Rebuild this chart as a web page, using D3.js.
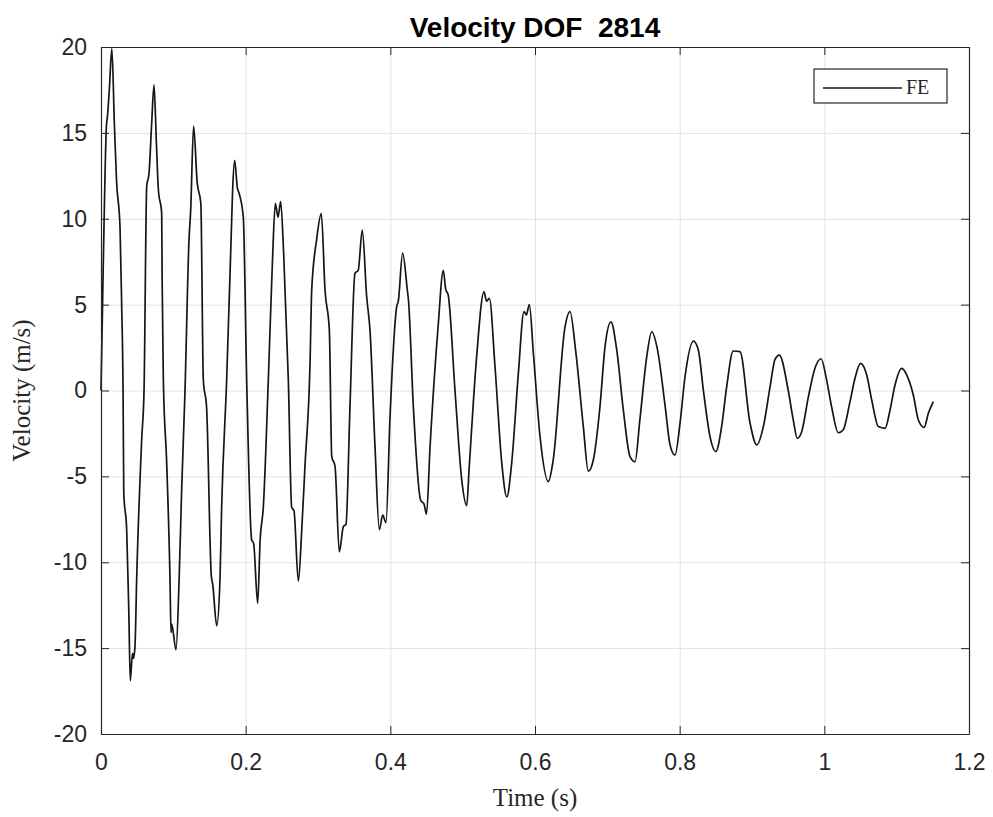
<!DOCTYPE html>
<html>
<head>
<meta charset="utf-8">
<script src="https://cdn.jsdelivr.net/npm/d3@7"></script>
<style>
body{margin:0;background:#fff;}
.tick-label{font-family:"Liberation Sans",Arial,sans-serif;font-size:23px;fill:#262626;}
.ax-label{font-family:"Liberation Serif","Times New Roman",serif;font-size:25px;fill:#262626;}
.title{font-family:"Liberation Sans",Arial,sans-serif;font-size:28px;font-weight:bold;fill:#000;}
</style>
</head>
<body>
<div id="chart"></div>
<script>
// values (time in s, velocity in m/s)
const time = [
  0.000,0.003,0.0075,0.009,0.0115,0.015,0.0185,0.0215,0.0263,0.0286,0.0305,0.0315,0.0355,0.0385,0.0405,0.0435,0.045,0.047,
  0.0493,0.0562,0.0595,0.0632,0.0664,0.070,0.0733,0.0765,0.0793,0.0839,0.0845,0.0862,0.0908,0.0954,0.0968,0.0977,0.1037,
  0.108,0.1115,0.116,0.1217,0.124,0.128,0.133,0.138,0.1415,0.146,0.1525,0.1545,0.160,0.1645,0.1668,0.1737,0.180,0.182,
  0.1848,0.1885,0.1908,0.1967,0.2014,0.2083,0.211,0.2166,0.220,0.2244,0.2313,0.237,0.241,0.2447,0.2484,0.2525,0.259,
  0.2636,0.2668,0.2728,0.2778,0.282,0.289,0.2913,0.298,0.3046,0.3097,0.3157,0.319,0.3235,0.3295,0.335,0.3387,0.3442,
  0.3511,0.3556,0.3612,0.3673,0.3719,0.3788,0.3848,0.3894,0.394,0.3996,0.4088,0.411,0.417,0.4235,0.425,0.432,0.442,
  0.4465,0.450,0.4549,0.466,0.4733,0.4765,0.480,0.4894,0.4987,0.5056,0.509,0.519,0.5295,0.533,0.5369,0.5447,0.554,
  0.561,0.5678,0.577,0.5848,0.588,0.5922,0.5977,0.607,0.6184,0.625,0.6415,0.6484,0.656,0.6668,0.6737,0.6806,0.6899,
  0.6968,0.705,0.713,0.722,0.7314,0.7383,0.745,0.7545,0.7614,0.769,0.780,0.7867,0.7936,0.8005,0.8074,0.819,0.8258,
  0.8327,0.842,0.850,0.858,0.865,0.874,0.8834,0.8973,0.9065,0.9157,0.925,0.9318,0.9378,0.950,0.957,0.9626,0.9687,
  0.978,0.987,0.9955,1.0032,1.010,1.0194,1.026,1.0355,1.0424,1.050,1.0586,1.0655,1.0747,1.084,1.0908,1.0977,1.107,
  1.114,1.123,1.130,1.138,1.1438,1.1507
];
const velocity = [
  0.0,7.0,15.4,16.0,17.5,19.9,15.5,12.2,9.5,4.9,0.0,-6.0,-8.1,-13.0,-16.9,-15.3,-15.6,-14.9,
  -11.0,-2.9,0.0,11.9,12.65,15.5,17.8,14.5,11.7,10.3,6.6,0.6,-4.2,-11.0,-14.1,-13.6,-15.1,
  -11.0,-5.8,-0.2,8.8,10.5,15.4,12.1,10.9,0.6,-1.0,-10.8,-11.3,-13.7,-11.0,-6.8,0.6,9.0,11.7,
  13.4,11.8,11.5,10.1,0.6,-8.7,-8.9,-12.4,-8.7,-6.8,0.6,7.5,10.9,10.1,11.0,8.0,0.6,
  -6.8,-7.0,-11.1,-7.9,-4.4,1.6,5.85,8.76,10.3,5.85,3.5,-3.85,-4.4,-9.4,-7.93,-7.8,-0.94,
  6.82,7.0,9.34,5.46,3.5,-3.27,-8.1,-7.25,-7.7,-1.5,4.88,5.2,8.0,5.85,5.3,-1.1,-6.4,
  -6.6,-7.2,-3.3,3.7,7.0,5.9,5.56,0.0,-5.2,-6.7,-4.5,1.8,5.75,5.2,5.37,1.4,-4.2,
  -6.2,-4.2,1.0,4.6,4.4,5.0,2.2,-2.7,-5.3,-4.1,3.7,4.6,2.4,-2.1,-4.7,-4.05,-0.9,
  2.55,4.0,2.36,-1.1,-3.85,-4.15,-1.7,1.97,3.42,2.45,-0.94,-3.17,-3.76,-1.9,0.8,2.88,2.36,
  0.03,-2.7,-3.56,-2.1,0.22,2.3,2.26,-1.9,-3.17,-2.1,0.22,1.81,2.06,0.03,-1.7,-2.78,-2.4,
  -0.36,1.29,1.85,0.6,-0.94,-2.46,-2.3,-0.65,0.71,1.58,0.9,-0.55,-2.1,-2.2,-1.14,0.32,1.29,
  0.9,-0.26,-1.72,-2.15,-1.33,-0.65
];
const xTicks = [0,0.2,0.4,0.6,0.8,1,1.2];
const xTickLabels = ["0","0.2","0.4","0.6","0.8","1","1.2"];
const yTicks = [-20,-15,-10,-5,0,5,10,15,20];
const yTickLabels = ["-20","-15","-10","-5","0","5","10","15","20"];
const seriesName = "FE";

const width = 993, height = 817;
const marginLeft = 101, marginRight = 24, marginTop = 47, marginBottom = 83;
const chartWidth = width - marginLeft - marginRight;
const chartHeight = height - marginTop - marginBottom;

const svg = d3.select('#chart').append('svg')
  .attr('width', width)
  .attr('height', height);

const xScale = d3.scaleLinear().domain([0, 1.2]).range([0, chartWidth]);
const yScale = d3.scaleLinear().domain([-20, 20]).range([chartHeight, 0]);

const chart = svg.append('g')
  .attr('transform', `translate(${marginLeft},${marginTop})`);

// grid
chart.append('g')
  .call(d3.axisBottom(xScale).tickValues(xTicks).tickSize(chartHeight).tickFormat(''))
  .call(g => g.select('.domain').remove())
  .call(g => g.selectAll('line').attr('stroke', '#e3e3e3').attr('stroke-width', 1));
chart.append('g')
  .call(d3.axisLeft(yScale).tickValues(yTicks).tickSize(-chartWidth).tickFormat(''))
  .call(g => g.select('.domain').remove())
  .call(g => g.selectAll('line').attr('stroke', '#e3e3e3').attr('stroke-width', 1));

// data line
const line = d3.line()
  .x((d, i) => xScale(time[i]))
  .y(d => yScale(d))
  .curve(d3.curveMonotoneX);
chart.append('path')
  .datum(velocity)
  .attr('fill', 'none')
  .attr('stroke', '#151515')
  .attr('stroke-width', 1.7)
  .attr('stroke-linejoin', 'round')
  .attr('d', line);

// axes, ticks pointing inward, box on all sides
const tickLen = 8;
const xAxis = chart.append('g')
  .attr('transform', `translate(0,${chartHeight})`)
  .call(d3.axisBottom(xScale).tickValues(xTicks).tickSizeInner(-tickLen).tickSizeOuter(0)
    .tickFormat((d, i) => xTickLabels[i]).tickPadding(20));
const yAxis = chart.append('g')
  .call(d3.axisLeft(yScale).tickValues(yTicks).tickSizeInner(-tickLen).tickSizeOuter(0)
    .tickFormat((d, i) => yTickLabels[i]).tickPadding(14));
chart.append('g')
  .call(d3.axisTop(xScale).tickValues(xTicks).tickSizeInner(-tickLen).tickSizeOuter(0).tickFormat(''));
chart.append('g')
  .attr('transform', `translate(${chartWidth},0)`)
  .call(d3.axisRight(yScale).tickValues(yTicks).tickSizeInner(-tickLen).tickSizeOuter(0).tickFormat(''));
chart.selectAll('.domain').attr('stroke', '#262626').attr('stroke-width', 1.2);
chart.selectAll('.tick line').filter(function(){ return this.getAttribute('stroke') === 'currentColor'; })
  .attr('stroke', '#262626');
[xAxis, yAxis].forEach(a => a.selectAll('text').attr('class', 'tick-label').attr('font-size', null).attr('font-family', null));

// title and labels
svg.append('text')
  .attr('class', 'title')
  .attr('x', marginLeft + chartWidth / 2)
  .attr('y', 37)
  .attr('text-anchor', 'middle')
  .style('white-space', 'pre')
  .text('Velocity DOF  2814');
svg.append('text')
  .attr('class', 'ax-label')
  .attr('x', marginLeft + chartWidth / 2)
  .attr('y', 806)
  .attr('text-anchor', 'middle')
  .text('Time (s)');
svg.append('text')
  .attr('class', 'ax-label')
  .attr('transform', `translate(30,${marginTop + chartHeight / 2}) rotate(-90)`)
  .attr('text-anchor', 'middle')
  .text('Velocity (m/s)');

// legend
const legend = svg.append('g').attr('transform', 'translate(814,69)');
legend.append('rect')
  .attr('width', 133).attr('height', 34)
  .attr('fill', '#fff').attr('stroke', '#262626').attr('stroke-width', 1.2);
legend.append('line')
  .attr('x1', 9).attr('x2', 88).attr('y1', 19).attr('y2', 19)
  .attr('stroke', '#151515').attr('stroke-width', 1.7);
legend.append('text')
  .attr('class', 'ax-label')
  .attr('x', 92).attr('y', 25)
  .style('font-size', '20px')
  .text(seriesName);
</script>
</body>
</html>
